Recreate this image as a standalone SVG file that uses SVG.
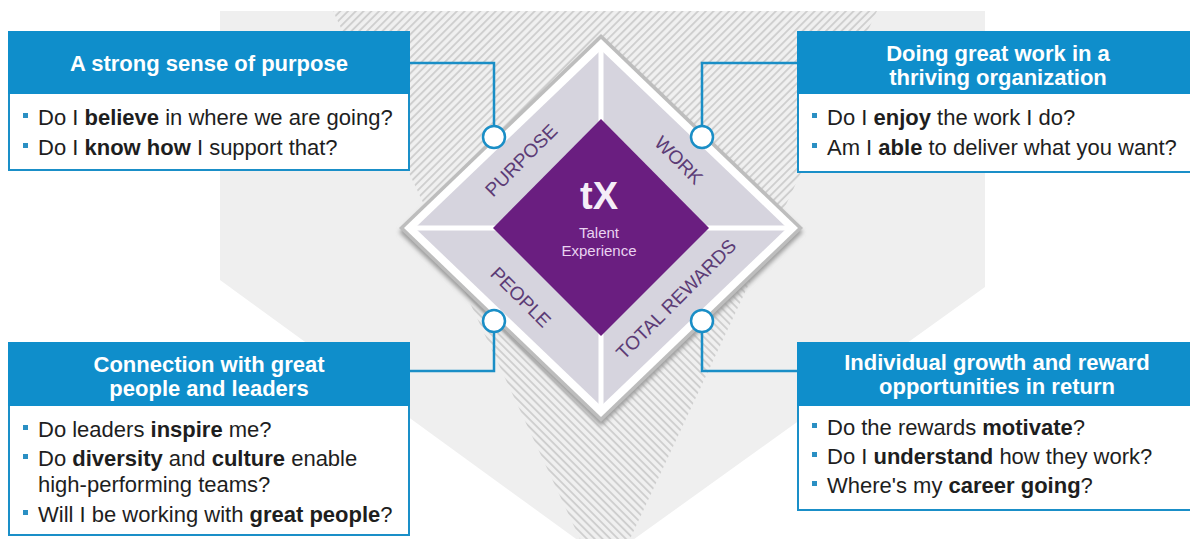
<svg xmlns="http://www.w3.org/2000/svg" width="1190" height="539" viewBox="0 0 1190 539">
  <defs>
    <!-- diagonal hatching, rising to the right -->
    <pattern id="hatch-up" patternUnits="userSpaceOnUse" width="5.5" height="5.5" patternTransform="rotate(45)">
      <rect width="5.5" height="5.5" fill="#f0f0f0"/>
      <line x1="1" y1="0" x2="1" y2="5.5" stroke="#cdcdcd" stroke-width="1.8"/>
    </pattern>
    <!-- diagonal hatching, falling to the right -->
    <pattern id="hatch-down" patternUnits="userSpaceOnUse" width="5.5" height="5.5" patternTransform="rotate(-45)">
      <rect width="5.5" height="5.5" fill="#f0f0f0"/>
      <line x1="1" y1="0" x2="1" y2="5.5" stroke="#cdcdcd" stroke-width="1.8"/>
    </pattern>
    <filter id="soft" x="-10%" y="-10%" width="120%" height="120%">
      <feGaussianBlur stdDeviation="2"/>
    </filter>
  </defs>
  <style>
    text { font-family: "Liberation Sans", Arial, Helvetica, sans-serif; }
    .head { fill: #0f8ecb; }
    .frame { fill: #ffffff; stroke: #1a8fc8; stroke-width: 2; }
    .title { fill: #ffffff; font-size: 22px; font-weight: bold; text-anchor: middle; }
    .body { fill: #1e1e1e; font-size: 22px; }
    .body tspan.b { font-weight: bold; }
    .dot { fill: #2a8fc3; }
    .quad { fill: #5c3c76; font-size: 19px; text-anchor: middle; }
    .link { fill: none; stroke: #1a8ec6; stroke-width: 2.5; }
    .port { fill: #ffffff; stroke: #1a8ec6; stroke-width: 2.5; }
  </style>

  <rect width="1190" height="539" fill="#ffffff"/>

  <!-- backdrop: pale shield with hatched funnel -->
  <g id="backdrop">
    <polygon points="220,11 985,11 985,287 605,560 220,280" fill="#efefef"/>
    <polygon points="333,11 877,11 775,228 435,228" fill="url(#hatch-up)"/>
    <polygon points="435,228 775,228 630,539 580,539" fill="url(#hatch-down)"/>
  </g>

  <!-- central diamond -->
  <g id="talent-experience">
    <polygon points="601,38 803,232 601,426 399,232" fill="#9c9c9c" filter="url(#soft)"/>
    <polygon points="601,34 803,228 601,422 399,228" fill="#bdbdbd"/>
    <polygon points="601,39 798,228 601,417 404,228" fill="#ffffff"/>
    <polygon points="601,50 787,228 601,406 415,228" fill="#d6d4de"/>
    <line x1="601" y1="48" x2="601" y2="408" stroke="#ffffff" stroke-width="5"/>
    <line x1="413" y1="228" x2="789" y2="228" stroke="#ffffff" stroke-width="5"/>
    <polygon points="601,119 709,228 601,336 493,228" fill="#6a1e80"/>
    <text x="599" y="209" fill="#f5eef8" font-size="38" font-weight="bold" text-anchor="middle">tX</text>
    <text x="599" y="238" fill="#e9d3f0" font-size="15" text-anchor="middle">Talent</text>
    <text x="599" y="256" fill="#e9d3f0" font-size="15" text-anchor="middle">Experience</text>
    <text class="quad" transform="translate(521,160) rotate(-45)" dy="6.8">PURPOSE</text>
    <text class="quad" transform="translate(679,160) rotate(45)" dy="6.8">WORK</text>
    <text class="quad" transform="translate(521,297) rotate(45)" dy="6.8">PEOPLE</text>
    <text class="quad" transform="translate(676,299) rotate(-45)" dy="6.8">TOTAL REWARDS</text>
  </g>

  <!-- connectors from the diamond to the four cards -->
  <g id="connectors">
    <path class="link" d="M410,63 H494 V126"/>
    <path class="link" d="M797,63 H702 V126"/>
    <path class="link" d="M494,332 V371 H410"/>
    <path class="link" d="M702,332 V371 H797"/>
    <circle class="port" cx="494" cy="137" r="11"/>
    <circle class="port" cx="702" cy="137" r="11"/>
    <circle class="port" cx="494" cy="321" r="11"/>
    <circle class="port" cx="702" cy="321" r="11"/>
  </g>

  <!-- card: purpose -->
  <g id="purpose">
    <rect class="frame" x="9" y="32" width="400" height="138"/>
    <rect class="head" x="8" y="31" width="402" height="63"/>
    <text class="title" x="209" y="71">A strong sense of purpose</text>
    <rect class="dot" x="23" y="113" width="5" height="5"/>
    <text class="body" x="38" y="125">Do I <tspan class="b">believe</tspan> in where we are going?</text>
    <rect class="dot" x="23" y="143" width="5" height="5"/>
    <text class="body" x="38" y="155">Do I <tspan class="b">know how</tspan> I support that?</text>
  </g>

  <!-- card: work -->
  <g id="work">
    <rect class="frame" x="798" y="32" width="400" height="140"/>
    <rect class="head" x="797" y="31" width="400" height="63"/>
    <text class="title" x="998" y="61">Doing great work in a</text>
    <text class="title" x="998" y="85">thriving organization</text>
    <rect class="dot" x="812" y="113" width="5" height="5"/>
    <text class="body" x="827" y="125">Do I <tspan class="b">enjoy</tspan> the work I do?</text>
    <rect class="dot" x="812" y="143" width="5" height="5"/>
    <text class="body" x="827" y="155">Am I <tspan class="b">able</tspan> to deliver what you want?</text>
  </g>

  <!-- card: people -->
  <g id="people">
    <rect class="frame" x="9" y="343" width="400" height="192"/>
    <rect class="head" x="8" y="342" width="402" height="64"/>
    <text class="title" x="209" y="372">Connection with great</text>
    <text class="title" x="209" y="396">people and leaders</text>
    <rect class="dot" x="23" y="425" width="5" height="5"/>
    <text class="body" x="38" y="437">Do leaders <tspan class="b">inspire</tspan> me?</text>
    <rect class="dot" x="23" y="454" width="5" height="5"/>
    <text class="body" x="38" y="466">Do <tspan class="b">diversity</tspan> and <tspan class="b">culture</tspan> enable</text>
    <text class="body" x="38" y="492">high-performing teams?</text>
    <rect class="dot" x="23" y="510" width="5" height="5"/>
    <text class="body" x="38" y="522">Will I be working with <tspan class="b">great people</tspan>?</text>
  </g>

  <!-- card: total rewards -->
  <g id="rewards">
    <rect class="frame" x="798" y="343" width="400" height="167"/>
    <rect class="head" x="797" y="342" width="400" height="64"/>
    <text class="title" x="997" y="370">Individual growth and reward</text>
    <text class="title" x="997" y="394">opportunities in return</text>
    <rect class="dot" x="812" y="423" width="5" height="5"/>
    <text class="body" x="827" y="435">Do the rewards <tspan class="b">motivate</tspan>?</text>
    <rect class="dot" x="812" y="452" width="5" height="5"/>
    <text class="body" x="827" y="464">Do I <tspan class="b">understand</tspan> how they work?</text>
    <rect class="dot" x="812" y="481" width="5" height="5"/>
    <text class="body" x="827" y="493">Where's my <tspan class="b">career going</tspan>?</text>
  </g>
</svg>
